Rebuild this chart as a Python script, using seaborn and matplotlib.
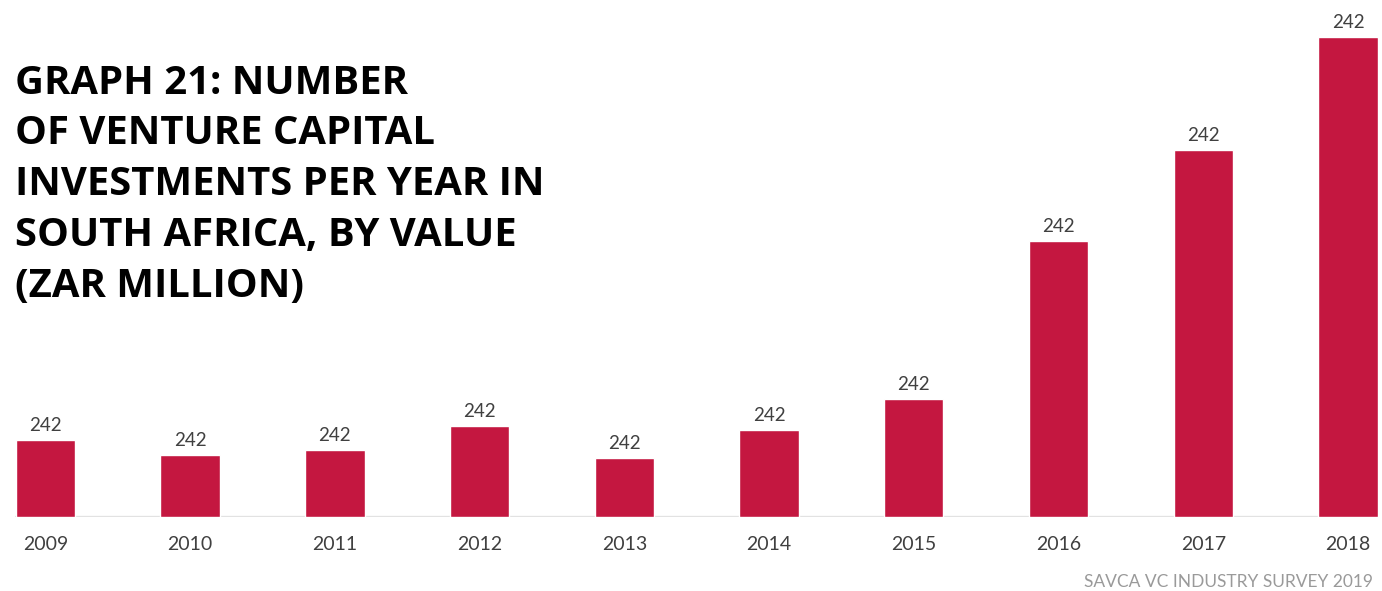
import matplotlib
matplotlib.use("Agg")
import matplotlib.pyplot as plt
import seaborn as sns
import pandas as pd

# Investment values per year and the value labels printed above each bar
years = ["2009", "2010", "2011", "2012", "2013", "2014", "2015", "2016", "2017", "2018"]
values = [77, 62, 67, 91, 59, 87, 118, 276, 367, 480]
value_labels = ["242", "242", "242", "242", "242", "242", "242", "242", "242", "242"]

title_lines = [
    "GRAPH 21: NUMBER",
    "OF VENTURE CAPITAL",
    "INVESTMENTS PER YEAR IN",
    "SOUTH AFRICA, BY VALUE",
    "(ZAR MILLION)",
]
source_note = "SAVCA VC INDUSTRY SURVEY 2019"

BAR_COLOR = "#C41740"
TEXT_COLOR = "#404040"

sns.set_theme(style="white")
plt.rcParams["font.family"] = ["Lato", "DejaVu Sans"]

W, H = 1382, 591
fig = plt.figure(figsize=(W / 100, H / 100), dpi=100)
fig.patch.set_facecolor("white")

# axes placed in pixel terms: baseline at y=517, bars span x 15..1378
left_px, right_px, base_px = 15, 1378, 517
ax = fig.add_axes([left_px / W, 1 - base_px / H, (right_px - left_px) / W, 500 / H])
ax.set_facecolor("none")

df = pd.DataFrame({"year": years, "value": values})
sns.barplot(data=df, x="year", y="value", color=BAR_COLOR, width=0.41,
            saturation=1, ax=ax, zorder=3)

ax.set_xlim(-0.21, 9.207)
ax.set_ylim(0, 500)
ax.axhline(0, color="#e2e2e2", lw=2.4, zorder=2)

for i, (v, lab) in enumerate(zip(values, value_labels)):
    ax.text(i, v + 6, lab, ha="center", va="bottom", fontsize=13.5,
            color=TEXT_COLOR, zorder=4)

ax.set_xlabel("")
ax.set_ylabel("")
ax.set_yticks([])
ax.tick_params(axis="x", length=0, pad=14, labelsize=14, labelcolor=TEXT_COLOR)
sns.despine(ax=ax, left=True, bottom=True)

# title block
for k, line in enumerate(title_lines):
    fig.text(15 / W, 1 - (83 + k * 50.8) / H, line, fontsize=28.8,
             fontweight="bold", color="black", ha="left", va="center",
             family=["Open Sans", "DejaVu Sans"])

fig.text(1373 / W, 1 - 582 / H, source_note, fontsize=12.5, color="#9a9a9a",
         ha="right", va="center")

fig.savefig("out.png", dpi=100, facecolor="white")
